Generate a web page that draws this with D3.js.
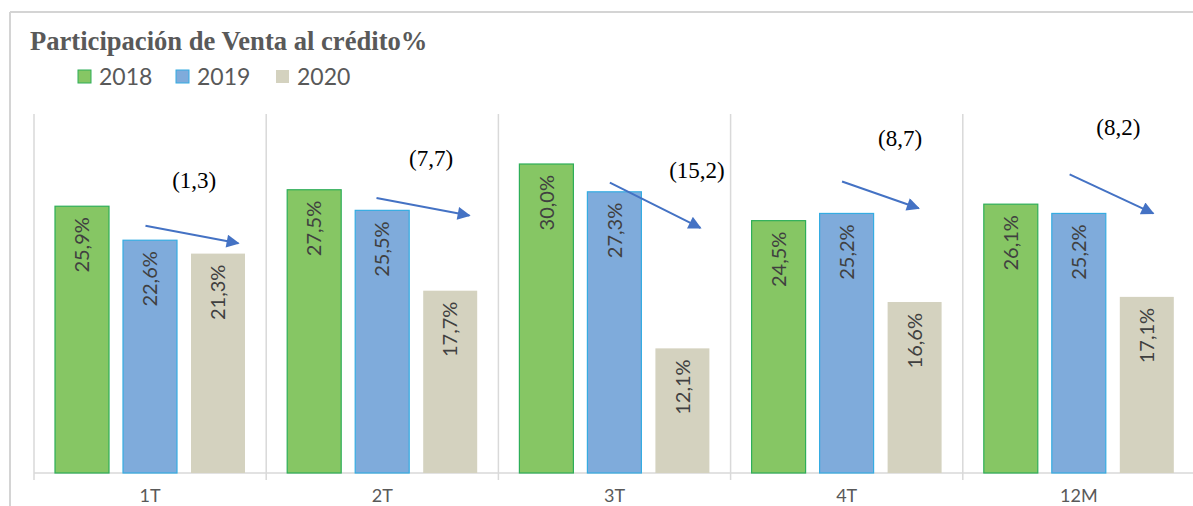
<!DOCTYPE html>
<html><head><meta charset="utf-8">
<script src="https://cdn.jsdelivr.net/npm/d3@7"></script>
<style>html,body{margin:0;padding:0;background:#fff;overflow:hidden}</style>
</head><body>
<svg id="chart" width="1193" height="506"></svg>
<script>
const categories = ["1T", "2T", "3T", "4T", "12M"];
const series = ["2018", "2019", "2020"];
const values2018 = [25.9, 27.5, 30.0, 24.5, 26.1];
const values2019 = [22.6, 25.5, 27.3, 25.2, 25.2];
const values2020 = [21.3, 17.7, 12.1, 16.6, 17.1];
const changeLabels = ["(1,3)", "(7,7)", "(15,2)", "(8,7)", "(8,2)"];
// arrow annotations: start/end as (fraction of category band, value in %)
const arrowStartFrac = [0.48, 0.475, 0.48, 0.48, 0.46];
const arrowEndFrac = [0.88, 0.875, 0.87, 0.81, 0.82];
const arrowStartVal = [24.0, 26.7, 28.2, 28.3, 29.0];
const arrowEndVal = [22.3, 25.0, 23.8, 25.7, 25.2];
const labelFrac = [0.69, 0.71, 0.855, 0.73, 0.67];
const labelVal = [27.7, 29.8, 28.6, 31.7, 32.8];

const fills = {"2018": "#86C664", "2019": "#7FABDB", "2020": "#D4D2BF"};
const strokes = {"2018": "#2EAE58", "2019": "#35ACE2", "2020": "none"};
const valuesBy = {"2018": values2018, "2019": values2019, "2020": values2020};

const svg = d3.select("#chart");
const left = 34, step = 232.2, base = 473;

// frame
svg.append("line").attr("x1", 10).attr("x2", 1193).attr("y1", 12).attr("y2", 12)
  .attr("stroke", "#D4D4D4").attr("stroke-width", 2);
svg.append("line").attr("x1", 10).attr("x2", 10).attr("y1", 12).attr("y2", 506)
  .attr("stroke", "#D4D4D4").attr("stroke-width", 2);

// title
svg.append("text").attr("x", 30).attr("y", 50)
  .attr("font-family", "'Liberation Serif','Times New Roman',serif")
  .attr("font-weight", "bold").attr("font-size", 26.6).attr("fill", "#595959")
  .text("Participación de Venta al crédito%");

// legend
const legendX = [78, 176, 276];
const lg = svg.append("g");
series.forEach((s, i) => {
  lg.append("rect").attr("x", legendX[i]).attr("y", 70).attr("width", 13).attr("height", 13)
    .attr("fill", fills[s]).attr("stroke", strokes[s]).attr("stroke-width", 1);
  lg.append("text").attr("x", legendX[i] + 21).attr("y", 85)
    .attr("font-family", "Lato, 'Open Sans', sans-serif").attr("font-size", 23)
    .attr("fill", "#595959").text(s);
});

const x = d3.scaleBand().domain(categories).range([left, left + step * categories.length]);
const xs = d3.scaleBand().domain(series).range([21, 211]).paddingInner(0.206);
const y = d3.scaleLinear().domain([0, 35]).range([base, 112.5]);

// gridlines / category dividers
const dividers = d3.range(categories.length + 1).map(i => left + i * x.step());
svg.append("g").selectAll("line").data(dividers).join("line")
  .attr("x1", d => d).attr("x2", d => d).attr("y1", y(35) + 1.5).attr("y2", base + 7)
  .attr("stroke", "#D9D9D9").attr("stroke-width", 1.5);
svg.append("line").attr("x1", left).attr("x2", 1193).attr("y1", base).attr("y2", base)
  .attr("stroke", "#D9D9D9").attr("stroke-width", 1.5);

// bars
const data = [];
categories.forEach((c, ci) => series.forEach(s => data.push({c, s, v: valuesBy[s][ci]})));
const bars = svg.append("g");
bars.selectAll("rect").data(data).join("rect")
  .attr("x", d => x(d.c) + xs(d.s))
  .attr("y", d => y(d.v))
  .attr("width", xs.bandwidth())
  .attr("height", d => base - y(d.v))
  .attr("fill", d => fills[d.s])
  .attr("stroke", d => strokes[d.s]).attr("stroke-width", 1.2);

// value labels
bars.selectAll("text").data(data).join("text")
  .attr("transform", d => `translate(${x(d.c) + xs(d.s) + xs.bandwidth() / 2},${y(d.v) + 11}) rotate(-90)`)
  .attr("text-anchor", "end").attr("dy", "0.36em")
  .attr("font-family", "Lato, 'Open Sans', sans-serif").attr("font-size", 20)
  .attr("fill", "#404040")
  .text(d => d.v.toFixed(1).replace(".", ",") + "%");

// category axis labels
const xAxis = d3.axisBottom(x).tickSize(0).tickPadding(0);
const ax = svg.append("g").attr("transform", `translate(0,${base})`).call(xAxis);
ax.select(".domain").remove();
ax.selectAll("text").attr("y", 29).attr("dy", 0)
  .attr("font-family", "Lato, 'Open Sans', sans-serif").attr("font-size", 18)
  .attr("fill", "#595959");

// arrows
const defs = svg.append("defs");
defs.append("marker").attr("id", "ah").attr("viewBox", "0 0 10 10")
  .attr("refX", 9).attr("refY", 5).attr("markerWidth", 7.5).attr("markerHeight", 6.5)
  .attr("markerUnits", "strokeWidth").attr("orient", "auto")
  .append("path").attr("d", "M0,0 L10,5 L0,10 z").attr("fill", "#4472C4");

const ann = svg.append("g");
categories.forEach((c, i) => {
  ann.append("line")
    .attr("x1", x(c) + arrowStartFrac[i] * x.step()).attr("y1", y(arrowStartVal[i]))
    .attr("x2", x(c) + arrowEndFrac[i] * x.step()).attr("y2", y(arrowEndVal[i]))
    .attr("stroke", "#4472C4").attr("stroke-width", 2).attr("marker-end", "url(#ah)");
  ann.append("text")
    .attr("x", x(c) + labelFrac[i] * x.step()).attr("y", y(labelVal[i]))
    .attr("text-anchor", "middle")
    .attr("font-family", "'Liberation Serif','Times New Roman',serif")
    .attr("font-size", 23).attr("fill", "#000")
    .text(changeLabels[i]);
});
</script>
</body></html>
